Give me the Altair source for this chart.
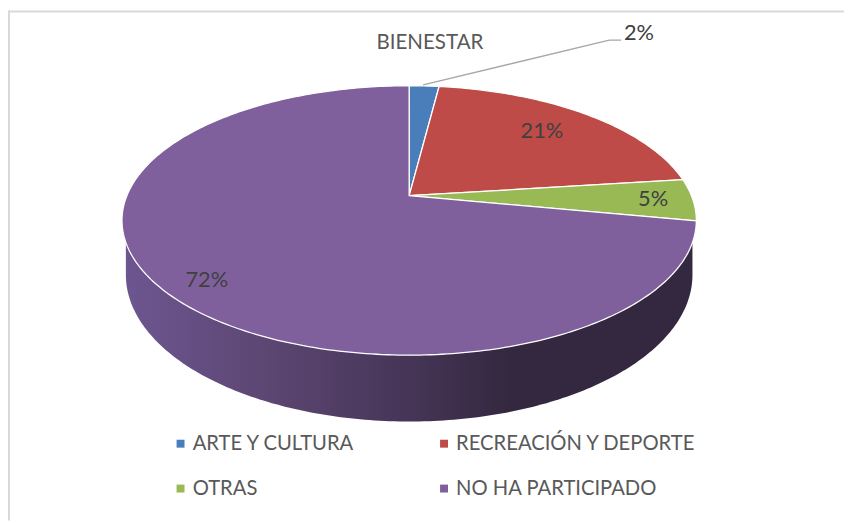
import math
import altair as alt

categories = ["ARTE Y CULTURA", "RECREACIÓN Y DEPORTE", "OTRAS", "NO HA PARTICIPADO"]
shares = [2, 21, 5, 72]
labels = ["2%", "21%", "5%", "72%"]
colors = ["#4a7ebb", "#be4b48", "#98b954", "#7f609d"]

# pie geometry in page pixels (perspective view of a circle)
CX, CY, BX, AY, K = 413, 195, 285, 131.4, 0.1838
LOW_CX, LOW_CY, LOW_RX, LOW_RY = 413, 275, 286, 148
W, H = 844, 515


def rim(frac, r=1.0):
    t = 2 * math.pi * frac
    u, v = r * math.sin(t), r * math.cos(t)
    d = 1 + K * v
    return [CX + BX * u / d, CY - AY * v / d]


features = []
start = 0.0
for cat, s, c in zip(categories, shares, colors):
    end = start + s / 100
    n = max(4, int(s * 4))
    pts = [[CX, CY]] + [rim(start + (end - start) * i / n) for i in range(n + 1)] + [[CX, CY]]
    features.append({"type": "Feature", "properties": {"category": cat},
                     "geometry": {"type": "Polygon", "coordinates": [pts]}})
    start = end

wall_pts = [[LOW_CX - LOW_RX, 222]]
for i in range(181):
    a = math.pi * i / 180
    wall_pts.append([LOW_CX - LOW_RX * math.cos(a), LOW_CY + LOW_RY * math.sin(a)])
wall_pts += [[LOW_CX + LOW_RX, 222], [LOW_CX - LOW_RX, 222]]
wall = [{"type": "Feature", "properties": {},
         "geometry": {"type": "Polygon", "coordinates": [wall_pts]}}]

PROJ = dict(type="identity", scale=1, translate=[-8, -8])
xs = alt.Scale(domain=[8, 8 + W], range=[0, W])
ys = alt.Scale(domain=[8, 8 + H], range=[0, H])
X = lambda f: alt.X(f, type="quantitative", scale=xs, axis=None)
Y = lambda f: alt.Y(f, type="quantitative", scale=ys, axis=None)

wall_layer = alt.Chart(alt.Data(values=wall)).mark_geoshape(
    fill=alt.LinearGradient(
        gradient="linear", x1=0, x2=1, y1=0, y2=0,
        stops=[alt.GradientStop(color="#6d5690", offset=0),
               alt.GradientStop(color="#5c4672", offset=0.25),
               alt.GradientStop(color="#463557", offset=0.5),
               alt.GradientStop(color="#33283f", offset=0.68),
               alt.GradientStop(color="#33283f", offset=1)]),
    strokeWidth=0,
).project(**PROJ)

slices = alt.Chart(alt.Data(values=features)).mark_geoshape(
    stroke="white", strokeWidth=1.3
).encode(
    color=alt.Color(
        "properties.category:N",
        scale=alt.Scale(domain=categories, range=colors),
        sort=categories,
        legend=alt.Legend(
            title=None, orient="none", legendX=164, legendY=427, columns=2,
            direction="horizontal",
            symbolType="square", symbolSize=64, symbolStrokeWidth=0,
            labelFont="Lato", labelFontSize=20.4, labelColor="#595959", labelLimit=300,
            columnPadding=79, rowPadding=24.5, labelOffset=2, padding=0,
        ),
    )
).project(**PROJ)

# value labels, placed along each slice's mid angle, with a small nudge
radial = [None, 0.74, 0.85, 0.85]
nudge_x = [0, -2, 3, 3]
nudge_y = [0, -3, 0, 6]
mid, acc = [], 0
for s in shares:
    mid.append((acc + s / 2) / 100)
    acc += s
inside = []
for m, r, t, dx, dy in zip(mid, radial, labels, nudge_x, nudge_y):
    if r:
        px, py = rim(m, r)
        inside.append({"x": px + dx, "y": py + dy, "t": t})
value_text = alt.Chart(alt.Data(values=inside)).mark_text(
    font="Lato", fontSize=22, color="#404040"
).encode(x=X("x"), y=Y("y"), text="t:N")

outer = alt.Chart(alt.Data(values=[{"x": 645, "y": 30.5, "t": labels[0]}])).mark_text(
    font="Lato", fontSize=22, color="#404040"
).encode(x=X("x"), y=Y("y"), text="t:N")

leader_anchor = rim(mid[0])
leader = alt.Chart(alt.Data(values=[
    {"x": leader_anchor[0] - 1, "y": leader_anchor[1] - 1, "o": 0},
    {"x": 615, "y": 38, "o": 1},
    {"x": 627, "y": 38, "o": 2},
])).mark_line(color="#a6a6a6", strokeWidth=1.3).encode(x=X("x"), y=Y("y"), order="o:Q")

title_text = alt.Chart(alt.Data(values=[{"x": 434, "y": 41, "t": "BIENESTAR"}])).mark_text(
    font="Lato", fontSize=20.7, color="#595959"
).encode(x=X("x"), y=Y("y"), text="t:N")

frame_top = alt.Chart(alt.Data(values=[{"x": 8, "x2": 852, "y": 9}])).mark_rule(
    color="#d9d9d9", strokeWidth=2
).encode(x=X("x"), x2="x2:Q", y=Y("y"))
frame_left = alt.Chart(alt.Data(values=[{"x": 9, "y": 8, "y2": 523}])).mark_rule(
    color="#d9d9d9", strokeWidth=2
).encode(x=X("x"), y=Y("y"), y2="y2:Q")

chart = alt.layer(
    frame_top, frame_left, wall_layer, slices, leader, value_text, outer, title_text
).properties(
    width=W, height=H, padding=0,
    autosize=alt.AutoSizeParams(type="none"),
).configure_view(stroke=None)

chart.save("out.html", embed_options={"renderer": "svg", "actions": False})
